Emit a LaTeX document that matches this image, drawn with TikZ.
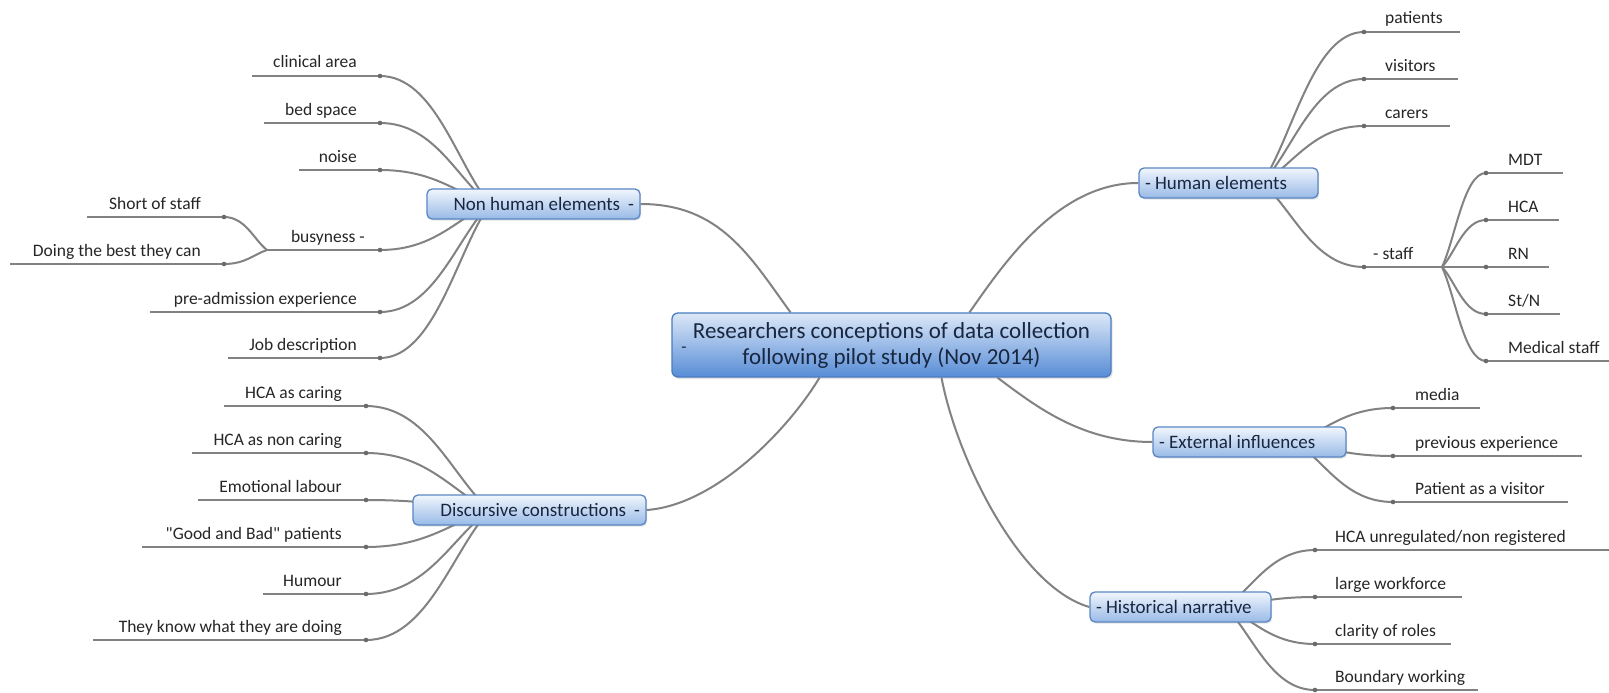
\documentclass[tikz,border=0pt]{standalone}
\usepackage{fontspec}
\setmainfont{Carlito}[Ligatures=TeXOff]
\usetikzlibrary{calc,shadows}
\pgfdeclarelayer{paper}
\pgfdeclarelayer{bg}
\pgfsetlayers{paper,bg,main}

\definecolor{linegray}{HTML}{828282}
\definecolor{knotgray}{HTML}{6A6A6A}
\definecolor{leafink}{HTML}{262626}
\definecolor{topicink}{HTML}{18273F}
\definecolor{topicedge}{HTML}{5A86C4}
\definecolor{topictop}{HTML}{F1F6FD}
\definecolor{topicmid}{HTML}{D3E3F7}
\definecolor{topicbot}{HTML}{98BAE7}
\definecolor{rootedge}{HTML}{4A7CC0}
\definecolor{roottop}{HTML}{DCE8F8}
\definecolor{rootmid}{HTML}{A3C3EE}
\definecolor{rootbot}{HTML}{578CD6}

\tikzset{
  leafline/.style={draw=linegray, line width=2pt},
  knot/.style={fill=knotgray},
  leaftext/.style={font=\fontsize{17.5}{20}\selectfont, text=leafink, inner sep=0pt},
  topic/.style={draw=topicedge, line width=1.3pt, rounded corners=5pt,
    top color=topictop, middle color=topicmid, bottom color=topicbot,
    drop shadow={shadow xshift=1.2pt, shadow yshift=-1.5pt, opacity=0.22},
    font=\fontsize{19}{22}\selectfont, text=topicink,
    inner xsep=6pt, inner ysep=0pt, minimum height=30pt},
  topicL/.style={topic, align=flush right},
  topicR/.style={topic, align=flush left},
  root/.style={draw=rootedge, line width=1.3pt, rounded corners=6pt,
    top color=roottop, middle color=rootmid, bottom color=rootbot,
    drop shadow={shadow xshift=1.5pt, shadow yshift=-2pt, opacity=0.22},
    font=\fontsize{23}{26}\selectfont, text=topicink, align=center,
    inner sep=0pt, minimum width=439pt, minimum height=64pt},
  collapse/.style={font=\fontsize{17}{20}\selectfont, text=topicink, inner sep=0pt}
}

% leaf on the left of its parent: [label gap]{name}{knot x}{y}{line left end}{text}
\newcommand\leftleaf[6][23]{%
  \coordinate (#2) at (#3,#4);
  \coordinate (#2-end) at (#5,#4);
  \node[leaftext, anchor=base east] (#2-label) at (#3-#1,#4-8) {#6};
  \draw[leafline] (#2-end) -- (#2);
  \fill[knot] (#2) circle (2.3);
}
% leaf on the right of its parent: [label gap]{name}{knot x}{y}{line right end}{text}
\newcommand\rightleaf[6][21]{%
  \coordinate (#2) at (#3,#4);
  \coordinate (#2-end) at (#5,#4);
  \node[leaftext, anchor=base west] (#2-label) at (#3+#1,#4-8) {#6};
  \draw[leafline] (#2) -- (#2-end);
  \fill[knot] (#2) circle (2.3);
}
% curved branch from a knot to the point it grows from
\newcommand\twig[2]{%
  \begin{pgfonlayer}{bg}
    \draw[leafline] (#1) .. controls ($(#1)!0.5!(#2 |- #1)$) and ($(#1)!0.7!(#2)$) .. (#2);
  \end{pgfonlayer}
}

\begin{document}
\begin{tikzpicture}[x=1pt, y=-1pt]
\useasboundingbox (0,0) rectangle (1609,693);
\begin{pgfonlayer}{paper}
  \fill[white] (0,0) rectangle (1609,693);
\end{pgfonlayer}

% central topic
\node[root] (c) at (891.5,345) {Researchers conceptions of data collection\\following pilot study (Nov 2014)};
\node[collapse] (cm) at (684,350) {-};

% main topics
\node[topicL, text width=201pt] (nh) at (533.5,204) {Non human elements\hspace{8pt}-};
\node[topicL, text width=221pt] (ds) at (529.5,510) {Discursive constructions\hspace{8pt}-};
\node[topicR, text width=167pt] (hm) at (1228.5,183) {- Human elements};
\node[topicR, text width=181pt] (ex) at (1249.5,442) {- External influences};
\node[topicR, text width=169pt] (hn) at (1180.5,607) {- Historical narrative};

% points inside the topics where the sub-branches start
\coordinate (nhhub) at (490,204);
\coordinate (dshub) at (490,510);
\coordinate (hmhub) at (1262,183);
\coordinate (exhub) at (1295,442);
\coordinate (hnhub) at (1225,607);

% connectors from the central topic
\begin{pgfonlayer}{bg}
  \draw[leafline] ([xshift=-101pt]c.north) .. controls +(-40,-55) and +(80,0) .. (nh.east);
  \draw[leafline] ([xshift=78pt]c.north) .. controls +(35,-50) and +(-80,0) .. (hm.west);
  \draw[leafline] ([xshift=106pt]c.south) .. controls +(40,30) and +(-70,0) .. (ex.west);
  \draw[leafline] ([xshift=50pt]c.south) .. controls +(15,80) and +(-70,-20) .. (hn.west);
  \draw[leafline] ([xshift=-72pt]c.south) .. controls +(-30,50) and +(70,-5) .. (ds.east);
\end{pgfonlayer}

% Non human elements
\leftleaf{clin}{380}{76}{252}{clinical area}         \twig{clin}{nhhub}
\leftleaf{bed}{380}{123}{264}{bed space}             \twig{bed}{nhhub}
\leftleaf{noise}{380}{170}{299}{noise}               \twig{noise}{nhhub}
\leftleaf[15]{busy}{380}{250}{267}{busyness -}       \twig{busy}{nhhub}
\leftleaf{short}{224}{217}{87}{Short of staff}       \twig{short}{busy-end}
\leftleaf{best}{224}{264}{10}{Doing the best they can} \twig{best}{busy-end}
\leftleaf{preadm}{380}{312}{150}{pre-admission experience} \twig{preadm}{nhhub}
\leftleaf{job}{380}{358}{228}{Job description}       \twig{job}{nhhub}

% Discursive constructions
\leftleaf[24]{caring}{366}{406}{224}{HCA as caring}            \twig{caring}{dshub}
\leftleaf[24]{noncaring}{366}{453}{192}{HCA as non caring}     \twig{noncaring}{dshub}
\leftleaf[24]{emo}{366}{500}{198}{Emotional labour}            \twig{emo}{dshub}
\leftleaf[24]{goodbad}{366}{547}{142}{"Good and Bad" patients} \twig{goodbad}{dshub}
\leftleaf[24]{humour}{366}{594}{263}{Humour}                   \twig{humour}{dshub}
\leftleaf[24]{know}{366}{640}{93}{They know what they are doing} \twig{know}{dshub}

% Human elements
\rightleaf{patients}{1364}{32}{1460}{patients}   \twig{patients}{hmhub}
\rightleaf{visitors}{1364}{79}{1458}{visitors}   \twig{visitors}{hmhub}
\rightleaf{carers}{1364}{126}{1450}{carers}      \twig{carers}{hmhub}
\rightleaf[9]{staff}{1364}{267}{1442}{- staff}   \twig{staff}{hmhub}
\rightleaf[22]{mdt}{1486}{173}{1563}{MDT}        \twig{mdt}{staff-end}
\rightleaf[22]{hca}{1486}{220}{1559}{HCA}        \twig{hca}{staff-end}
\rightleaf[22]{rn}{1486}{267}{1549}{RN}          \twig{rn}{staff-end}
\rightleaf[22]{stn}{1486}{314}{1560}{St/N}       \twig{stn}{staff-end}
\rightleaf[22]{med}{1486}{361}{1609}{Medical staff} \twig{med}{staff-end}

% External influences
\rightleaf[22]{media}{1393}{408}{1480}{media}                \twig{media}{exhub}
\rightleaf[22]{prevexp}{1393}{456}{1582}{previous experience} \twig{prevexp}{exhub}
\rightleaf[22]{patvis}{1393}{502}{1568}{Patient as a visitor} \twig{patvis}{exhub}

% Historical narrative
\rightleaf[20]{unreg}{1315}{550}{1609}{HCA unregulated/non registered} \twig{unreg}{hnhub}
\rightleaf[20]{workforce}{1315}{597}{1462}{large workforce} \twig{workforce}{hnhub}
\rightleaf[20]{clarity}{1315}{644}{1451}{clarity of roles}  \twig{clarity}{hnhub}
\rightleaf[20]{boundary}{1315}{690}{1478}{Boundary working} \twig{boundary}{hnhub}
\end{tikzpicture}
\end{document}
